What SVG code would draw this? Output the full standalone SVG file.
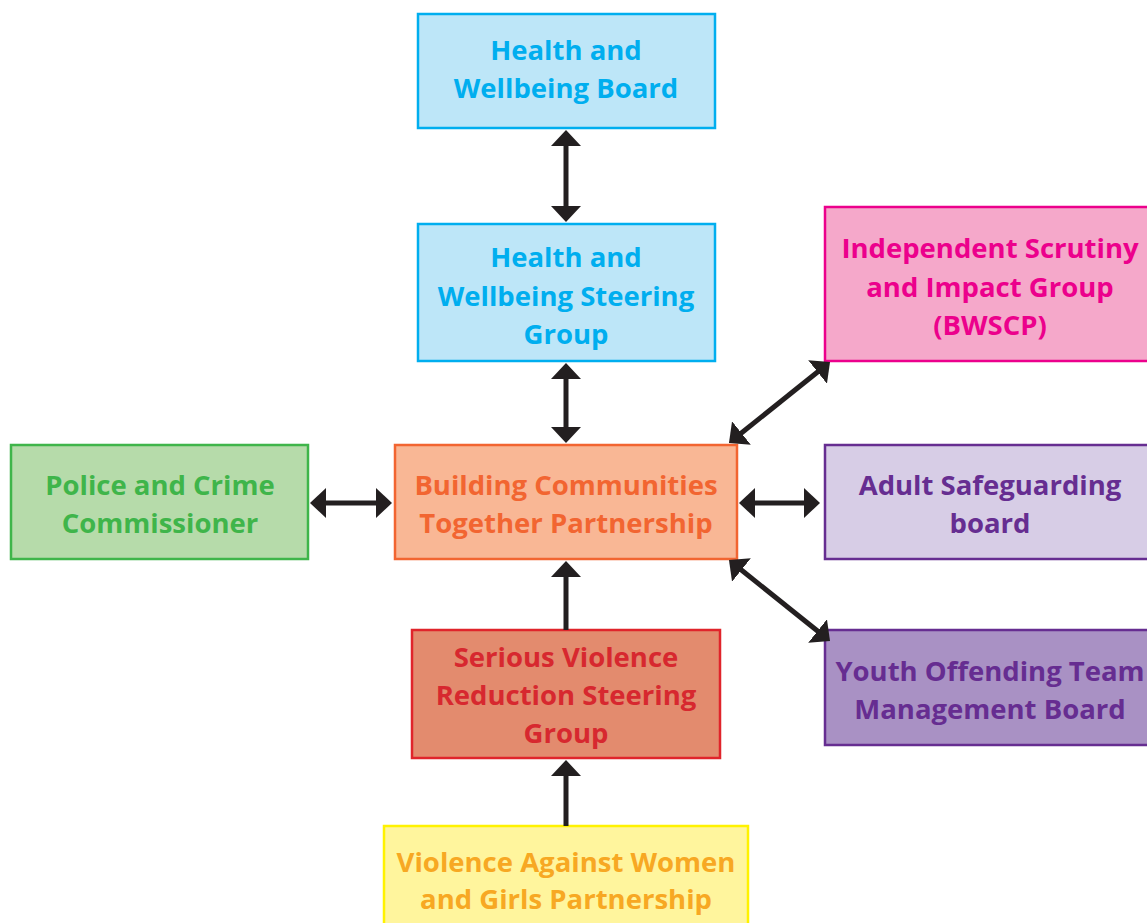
<svg xmlns="http://www.w3.org/2000/svg" width="1147" height="923" viewBox="0 0 1147 923">
<style>
rect { stroke-width: 2.5; }
text { font-family: "Open Sans", "Noto Sans", "DejaVu Sans", sans-serif; font-weight: 700; font-size: 27.5px; text-anchor: middle; }
.conn line { stroke: #231f20; stroke-width: 5; fill: none; }
</style>
<defs>
<marker id="ah" viewBox="0 0 16 30" refX="8" refY="15" markerWidth="16" markerHeight="30" markerUnits="userSpaceOnUse" orient="auto-start-reverse">
<path d="M0,0 L16,15 L0,30 Z" fill="#231f20"/>
</marker>
</defs>
<rect width="1147" height="923" fill="#ffffff" stroke="none"/>
<g id="hwb">
<rect x="418" y="14" width="297" height="114" fill="#bde6f8" stroke="#00aeef"/>
<text x="566" y="60" fill="#00aeef">Health and</text>
<text x="566" y="98" fill="#00aeef">Wellbeing Board</text>
</g>
<g id="hwsg">
<rect x="418" y="224" width="297" height="137" fill="#bde6f8" stroke="#00aeef"/>
<text x="566" y="267" fill="#00aeef">Health and</text>
<text x="566" y="306" fill="#00aeef">Wellbeing Steering</text>
<text x="566" y="344" fill="#00aeef">Group</text>
</g>
<g id="isig">
<rect x="825" y="207" width="325" height="154" fill="#f5a8ca" stroke="#ec008c"/>
<text x="990" y="258" fill="#ec008c">Independent Scrutiny</text>
<text x="990" y="297" fill="#ec008c">and Impact Group</text>
<text x="990" y="335" fill="#ec008c">(BWSCP)</text>
</g>
<g id="police">
<rect x="11" y="445" width="297" height="114" fill="#b6dbaa" stroke="#3fb54a"/>
<text x="160" y="495" fill="#3fb54a">Police and Crime</text>
<text x="160" y="533" fill="#3fb54a">Commissioner</text>
</g>
<g id="bctp">
<rect x="395" y="445" width="342" height="114" fill="#f9b795" stroke="#f26531"/>
<text x="566" y="495" fill="#f26531">Building Communities</text>
<text x="566" y="533" fill="#f26531">Together Partnership</text>
</g>
<g id="asb">
<rect x="825" y="445" width="325" height="114" fill="#d7cde6" stroke="#662d91"/>
<text x="990" y="495" fill="#662d91">Adult Safeguarding</text>
<text x="990" y="533" fill="#662d91">board</text>
</g>
<g id="svrsg">
<rect x="412" y="630" width="308" height="128" fill="#e38b6e" stroke="#e0242b"/>
<text x="566" y="667" fill="#d7282f">Serious Violence</text>
<text x="566" y="705" fill="#d7282f">Reduction Steering</text>
<text x="566" y="743" fill="#d7282f">Group</text>
</g>
<g id="yot">
<rect x="825" y="630" width="325" height="115" fill="#a991c4" stroke="#662d91"/>
<text x="990" y="681" fill="#662d91">Youth Offending Team</text>
<text x="990" y="719" fill="#662d91">Management Board</text>
</g>
<g id="vawg">
<rect x="384" y="826" width="364" height="110" fill="#fff59d" stroke="#fff200"/>
<text x="566" y="872" fill="#f7a823">Violence Against Women</text>
<text x="566" y="909" fill="#f7a823">and Girls Partnership</text>
</g>
<g id="connectors" class="conn">
<line x1="566" y1="138" x2="566" y2="214" marker-start="url(#ah)" marker-end="url(#ah)"/>
<line x1="566" y1="371" x2="566" y2="435" marker-start="url(#ah)" marker-end="url(#ah)"/>
<line x1="318" y1="503" x2="384" y2="503" marker-start="url(#ah)" marker-end="url(#ah)"/>
<line x1="747" y1="503" x2="812" y2="503" marker-start="url(#ah)" marker-end="url(#ah)"/>
<line x1="735.2" y1="438" x2="823.8" y2="367" marker-start="url(#ah)" marker-end="url(#ah)"/>
<line x1="735.2" y1="565" x2="823.8" y2="636" marker-start="url(#ah)" marker-end="url(#ah)"/>
<line x1="566" y1="630" x2="566" y2="569" marker-end="url(#ah)"/>
<line x1="566" y1="826" x2="566" y2="768" marker-end="url(#ah)"/>
</g>
</svg>
